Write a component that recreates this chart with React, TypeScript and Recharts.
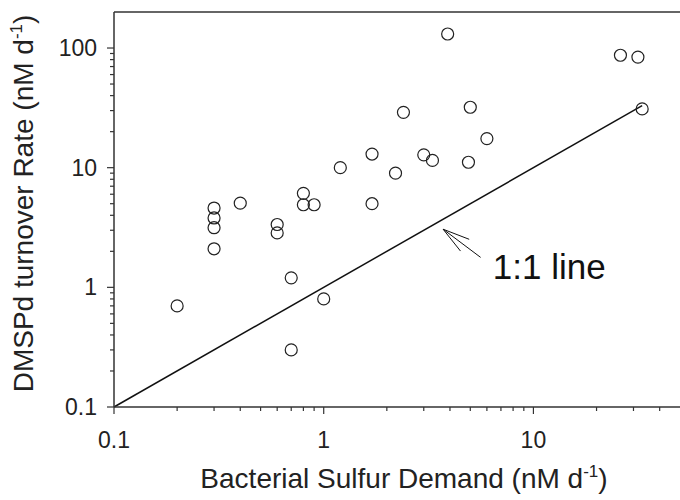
import React from 'react';
import { ScatterChart, Scatter, XAxis, YAxis, ReferenceLine, ReferenceDot } from 'recharts';

// bacterial sulfur demand (nM d-1), one per sample
const sulfurDemand = [0.2, 0.3, 0.3, 0.3, 0.3, 0.4, 0.6, 0.6, 0.7, 0.7, 1.0, 0.8, 0.8, 0.9, 1.2, 1.7, 2.4, 2.2, 1.7, 3.0, 3.3, 5.0, 6.0, 4.9, 3.9, 26, 31.5, 33];
// DMSPd turnover rate (nM d-1), same order
const turnoverRate = [0.7, 4.6, 3.8, 3.15, 2.1, 5.05, 3.35, 2.85, 1.2, 0.3, 0.8, 6.1, 4.9, 4.9, 10, 13, 29, 9, 5, 12.8, 11.5, 32, 17.5, 11.1, 131, 87, 84, 31];

const xTicks = [0.1, 0.2, 0.3, 0.4, 0.5, 0.6, 0.7, 0.8, 0.9, 1, 2, 3, 4, 5, 6, 7, 8, 9, 10, 20, 30, 40];
const yTicks = [0.1, 0.2, 0.3, 0.4, 0.5, 0.6, 0.7, 0.8, 0.9, 1, 2, 3, 4, 5, 6, 7, 8, 9, 10, 20, 30, 40, 50, 60, 70, 80, 90, 100];

const oneToOne = [0.1, 33];
const arrowTip = { x: 3.71, y: 3.06 };
const arrowEnds = [
  { x: 4.94, y: 2.52 },
  { x: 4.49, y: 2.01 },
  { x: 5.6, y: 1.78 },
];
const annotation = { x: 6.4, y: 1.167, text: '1:1 line' };

const points = sulfurDemand.map((x, i) => ({ x, y: turnoverRate[i] }));

const FONT = 'Arial, "Liberation Sans", Helvetica, sans-serif';
const INK = '#222';

const isMajor = (v: number) => Math.abs(Math.log10(v) - Math.round(Math.log10(v))) < 1e-6;

function XTick({ x, y, payload }: any) {
  const major = isMajor(payload.value);
  return (
    <g>
      <line x1={x} x2={x} y1={y} y2={y + (major ? 7 : 4)} stroke="#333" strokeWidth={1.2} />
      {major && (
        <text x={x} y={y + 41} textAnchor="middle" fontSize={23} fontFamily={FONT} fill={INK}>
          {String(payload.value)}
        </text>
      )}
    </g>
  );
}

function YTick({ x, y, payload }: any) {
  const major = isMajor(payload.value);
  return (
    <g>
      <line x1={x} x2={x - (major ? 7 : 4)} y1={y} y2={y} stroke="#333" strokeWidth={1.2} />
      {major && (
        <text x={x - 17} y={y + 8} textAnchor="end" fontSize={23} fontFamily={FONT} fill={INK}>
          {String(payload.value)}
        </text>
      )}
    </g>
  );
}

function XLabel({ viewBox }: any) {
  const { x, y, width } = viewBox;
  return (
    <text x={x + width / 2 + 7} y={y + 81} textAnchor="middle" fontSize={28} fontFamily={FONT} fill={INK}>
      <tspan>Bacterial Sulfur Demand (nM d</tspan>
      <tspan dy={-11} fontSize={17}>-1</tspan>
      <tspan dy={11}>)</tspan>
    </text>
  );
}

function YLabel({ viewBox }: any) {
  const { y, height } = viewBox;
  const cx = 33;
  const cy = y + height / 2 - 6;
  return (
    <text x={cx} y={cy} transform={`rotate(-90, ${cx}, ${cy})`} textAnchor="middle" fontSize={28} fontFamily={FONT} fill={INK}>
      <tspan>DMSPd turnover Rate (nM d</tspan>
      <tspan dy={-11} fontSize={17}>-1</tspan>
      <tspan dy={11}>)</tspan>
    </text>
  );
}

const OpenCircle = ({ cx, cy }: any) => (
  <circle cx={cx} cy={cy} r={6} fill="none" stroke={INK} strokeWidth={1.2} />
);

export default function App() {
  return (
    <div style={{ position: 'absolute', left: 0, top: 0, width: 680, height: 500, background: '#fff' }}>
      <ScatterChart width={680} height={500} margin={{ top: 12, right: 0, bottom: 0, left: 0 }}>
        <XAxis
          type="number"
          dataKey="x"
          scale="log"
          domain={[0.1, 50]}
          allowDataOverflow
          ticks={xTicks}
          interval={0}
          tick={<XTick />}
          tickLine={false}
          tickSize={0}
          tickMargin={0}
          height={93}
          axisLine={{ stroke: '#333', strokeWidth: 1.5 }}
          label={(props: any) => <XLabel {...props} />}
        />
        <YAxis
          type="number"
          dataKey="y"
          scale="log"
          domain={[0.1, 200]}
          allowDataOverflow
          ticks={yTicks}
          interval={0}
          tick={<YTick />}
          tickLine={false}
          tickSize={0}
          tickMargin={0}
          width={114}
          axisLine={{ stroke: '#333', strokeWidth: 1.5 }}
          label={(props: any) => <YLabel {...props} />}
        />
        <ReferenceLine y={200} stroke="#333" strokeWidth={1.5} ifOverflow="visible" />
        <ReferenceLine
          segment={[{ x: oneToOne[0], y: oneToOne[0] }, { x: oneToOne[1], y: oneToOne[1] }]}
          stroke="#111"
          strokeWidth={1.5}
          ifOverflow="visible"
        />
        {arrowEnds.map((e, i) => (
          <ReferenceLine
            key={i}
            segment={[arrowTip, e]}
            stroke="#111"
            strokeWidth={1}
            ifOverflow="visible"
          />
        ))}
        <ReferenceDot
          x={annotation.x}
          y={annotation.y}
          r={0}
          ifOverflow="visible"
          shape={(p: any) => (
            <text x={p.cx} y={p.cy} fontSize={35} fontFamily={FONT} fill="#111">
              {annotation.text}
            </text>
          )}
        />
        <Scatter data={points} shape={<OpenCircle />} isAnimationActive={false} />
      </ScatterChart>
    </div>
  );
}
